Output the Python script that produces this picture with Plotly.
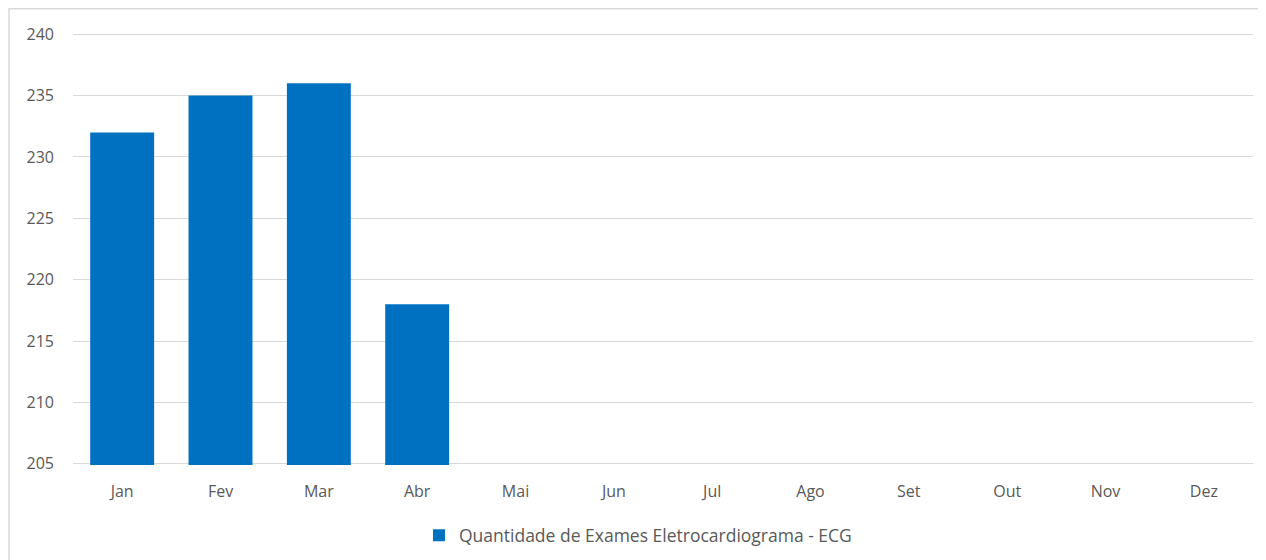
from plotly.graph_objects import Figure
from plotly.graph_objects import Bar

months = ["Jan", "Fev", "Mar", "Abr", "Mai", "Jun", "Jul", "Ago", "Set", "Out", "Nov", "Dez"]
ecg_counts = [232, 235, 236, 218, None, None, None, None, None, None, None, None]
series_name = "Quantidade de Exames Eletrocardiograma - ECG"

font = "Open Sans"
grey = "#595959"

figure = Figure()
figure.add_trace(
    Bar(
        x=months,
        y=ecg_counts,
        name=series_name,
        marker=dict(color="#0070C0", line=dict(width=0)),
        showlegend=True,
    ),
)
figure.update_layout(
    width=1258,
    height=557,
    margin=dict(t=25, r=13, b=96, l=65),
    paper_bgcolor="white",
    plot_bgcolor="white",
    bargap=0.35,
    font=dict(family=font, size=16, color=grey),
    legend=dict(
        orientation="h",
        x=0.2932,
        xanchor="left",
        y=-0.163,
        yanchor="middle",
        font=dict(family=font, size=17.5, color=grey),
        itemwidth=30,
    ),
    shapes=[
        dict(
            type="rect",
            xref="paper",
            yref="paper",
            x0=-0.0542,
            x1=1.03,
            y0=-0.3,
            y1=1.056,
            line=dict(color="#d9d9d9", width=1.5),
            layer="below",
        )
    ],
)
figure.update_xaxes(
    showgrid=False,
    zeroline=False,
    showline=False,
    ticks="",
    ticklabelstandoff=15,
    tickfont=dict(family=font, size=16, color=grey),
)
figure.update_yaxes(
    range=[204.9, 240.1],
    tickvals=[205, 210, 215, 220, 225, 230, 235, 240],
    showgrid=True,
    gridcolor="#d9d9d9",
    gridwidth=1,
    zeroline=False,
    ticks="",
    ticklabelstandoff=18,
    tickfont=dict(family=font, size=16, color=grey),
)
figure.write_html("out.html")
